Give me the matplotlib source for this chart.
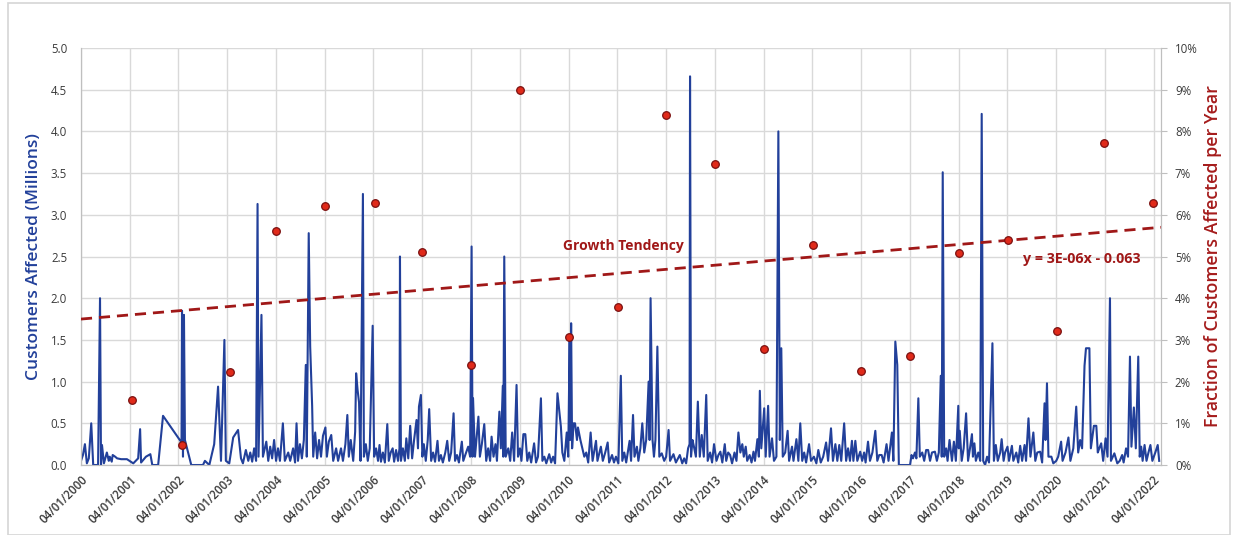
import matplotlib
matplotlib.use("Agg")
import matplotlib.pyplot as plt
import matplotlib.dates as mdates
from matplotlib.ticker import PercentFormatter, MultipleLocator
from matplotlib.patches import Rectangle
from datetime import datetime, timedelta

# --- data ---
# outage events: (decimal year, customers affected in millions)
outages_2000_2004 = [
    (2000.25, 0.05), (2000.29, 0.12), (2000.33, 0.25), (2000.37, 0.02), (2000.41, 0.08),
    (2000.46, 0.50), (2000.50, 0.00), (2000.60, 0.00), (2000.64, 2.00), (2000.66, 0.00),
    (2000.68, 0.24), (2000.72, 0.02), (2000.78, 0.15), (2000.82, 0.05), (2000.84, 0.10),
    (2000.88, 0.04), (2000.90, 0.12), (2000.95, 0.10), (2000.99, 0.08), (2001.07, 0.07),
    (2001.19, 0.07), (2001.32, 0.02), (2001.42, 0.08), (2001.46, 0.43), (2001.48, 0.03),
    (2001.58, 0.10), (2001.67, 0.13), (2001.71, 0.00), (2001.83, 0.00), (2001.93, 0.59),
    (2002.31, 0.27), (2002.32, 1.85), (2002.34, 0.10), (2002.36, 1.80), (2002.38, 0.30),
    (2002.51, 0.00), (2002.75, 0.00), (2002.79, 0.05), (2002.88, 0.00), (2002.98, 0.25),
    (2003.06, 0.94), (2003.12, 0.05), (2003.19, 1.50), (2003.22, 0.05), (2003.29, 0.02),
    (2003.37, 0.33), (2003.47, 0.42), (2003.53, 0.08), (2003.57, 0.02), (2003.63, 0.18),
    (2003.68, 0.05), (2003.72, 0.15), (2003.76, 0.04), (2003.80, 0.20), (2003.84, 0.05),
    (2003.87, 3.13), (2003.89, 0.10), (2003.95, 1.80), (2003.98, 0.10), (2004.05, 0.28),
    (2004.09, 0.05), (2004.13, 0.22), (2004.17, 0.08), (2004.21, 0.30), (2004.25, 0.05),
    (2004.29, 0.20), (2004.33, 0.05), (2004.39, 0.50), (2004.43, 0.05), (2004.50, 0.15),
    (2004.54, 0.05), (2004.60, 0.20), (2004.64, 0.03), (2004.67, 0.50), (2004.70, 0.05),
    (2004.74, 0.25), (2004.78, 0.08), (2004.82, 0.30), (2004.86, 1.20), (2004.88, 0.10),
    (2004.92, 2.78), (2004.95, 1.42), (2004.99, 0.71), (2005.01, 0.10),
]
outages_2005_2009 = [
    (2005.05, 0.39), (2005.09, 0.08), (2005.13, 0.30), (2005.17, 0.10), (2005.21, 0.35),
    (2005.26, 0.45), (2005.29, 0.10), (2005.33, 0.28), (2005.38, 0.36), (2005.42, 0.05),
    (2005.48, 0.20), (2005.52, 0.05), (2005.58, 0.20), (2005.62, 0.05), (2005.67, 0.25),
    (2005.71, 0.60), (2005.74, 0.10), (2005.78, 0.30), (2005.83, 0.05), (2005.87, 0.40),
    (2005.89, 1.10), (2005.92, 0.90), (2005.95, 0.75), (2005.98, 0.05), (2006.03, 3.25),
    (2006.05, 0.10), (2006.09, 0.25), (2006.13, 0.05), (2006.17, 0.20), (2006.23, 1.67),
    (2006.26, 0.10), (2006.30, 0.20), (2006.34, 0.05), (2006.37, 0.24), (2006.40, 0.04),
    (2006.44, 0.15), (2006.48, 0.03), (2006.53, 0.49), (2006.56, 0.05), (2006.60, 0.15),
    (2006.64, 0.20), (2006.67, 0.04), (2006.71, 0.18), (2006.75, 0.05), (2006.78, 0.20),
    (2006.79, 2.50), (2006.81, 0.05), (2006.85, 0.20), (2006.89, 0.05), (2006.92, 0.32),
    (2006.96, 0.08), (2007.00, 0.47), (2007.04, 0.08), (2007.08, 0.30), (2007.13, 0.54),
    (2007.16, 0.20), (2007.18, 0.70), (2007.22, 0.84), (2007.25, 0.10), (2007.28, 0.25),
    (2007.32, 0.05), (2007.36, 0.30), (2007.39, 0.67), (2007.43, 0.05), (2007.47, 0.15),
    (2007.51, 0.04), (2007.56, 0.29), (2007.59, 0.05), (2007.63, 0.12), (2007.67, 0.03),
    (2007.72, 0.15), (2007.76, 0.29), (2007.80, 0.05), (2007.84, 0.15), (2007.89, 0.62),
    (2007.92, 0.05), (2007.96, 0.12), (2008.00, 0.03), (2008.06, 0.28), (2008.09, 0.05),
    (2008.13, 0.12), (2008.19, 0.22), (2008.23, 0.10), (2008.26, 2.62), (2008.28, 0.10),
    (2008.29, 0.80), (2008.33, 0.10), (2008.36, 0.30), (2008.40, 0.58), (2008.43, 0.10),
    (2008.47, 0.25), (2008.52, 0.49), (2008.56, 0.05), (2008.60, 0.20), (2008.64, 0.05),
    (2008.67, 0.34), (2008.71, 0.10), (2008.75, 0.25), (2008.78, 0.05), (2008.83, 0.64),
    (2008.86, 0.20), (2008.90, 0.95), (2008.91, 0.10), (2008.93, 2.50), (2008.96, 0.10),
    (2009.01, 0.20), (2009.05, 0.05), (2009.09, 0.39), (2009.13, 0.05), (2009.18, 0.96),
    (2009.21, 0.10), (2009.25, 0.20), (2009.28, 0.05), (2009.32, 0.37), (2009.36, 0.37),
    (2009.40, 0.05), (2009.44, 0.15), (2009.48, 0.03), (2009.54, 0.26), (2009.58, 0.03),
    (2009.62, 0.10), (2009.68, 0.80), (2009.71, 0.05), (2009.75, 0.10), (2009.79, 0.02),
    (2009.85, 0.13), (2009.89, 0.03), (2009.93, 0.10), (2009.97, 0.02),
]
outages_2010_2015 = [
    (2010.02, 0.86), (2010.09, 0.46), (2010.12, 0.15), (2010.16, 0.05), (2010.21, 0.39),
    (2010.24, 0.10), (2010.27, 1.50), (2010.28, 0.30), (2010.30, 1.70), (2010.32, 0.20),
    (2010.35, 0.50), (2010.38, 0.50), (2010.42, 0.30), (2010.44, 0.45), (2010.49, 0.30),
    (2010.53, 0.20), (2010.57, 0.10), (2010.61, 0.15), (2010.65, 0.03), (2010.70, 0.39),
    (2010.74, 0.05), (2010.81, 0.29), (2010.84, 0.05), (2010.91, 0.22), (2010.95, 0.05),
    (2011.00, 0.15), (2011.05, 0.27), (2011.08, 0.03), (2011.14, 0.12), (2011.18, 0.03),
    (2011.22, 0.10), (2011.27, 0.02), (2011.32, 1.07), (2011.35, 0.05), (2011.39, 0.15),
    (2011.43, 0.03), (2011.50, 0.29), (2011.53, 0.05), (2011.57, 0.60), (2011.60, 0.10),
    (2011.65, 0.22), (2011.68, 0.05), (2011.72, 0.20), (2011.76, 0.50), (2011.80, 0.15),
    (2011.84, 0.30), (2011.89, 1.00), (2011.91, 0.30), (2011.93, 2.00), (2011.97, 0.30),
    (2012.00, 0.10), (2012.03, 0.30), (2012.07, 1.42), (2012.11, 0.10), (2012.16, 0.14),
    (2012.21, 0.05), (2012.25, 0.10), (2012.30, 0.42), (2012.33, 0.05), (2012.40, 0.13),
    (2012.45, 0.03), (2012.53, 0.12), (2012.58, 0.02), (2012.62, 0.08), (2012.66, 0.02),
    (2012.70, 0.20), (2012.73, 0.25), (2012.74, 4.66), (2012.76, 0.10), (2012.79, 0.30),
    (2012.82, 0.22), (2012.86, 0.10), (2012.90, 0.76), (2012.94, 0.10), (2012.98, 0.36),
    (2013.02, 0.10), (2013.07, 0.84), (2013.10, 0.05), (2013.15, 0.15), (2013.19, 0.03),
    (2013.23, 0.25), (2013.28, 0.05), (2013.32, 0.12), (2013.36, 0.16), (2013.40, 0.03),
    (2013.45, 0.25), (2013.48, 0.05), (2013.52, 0.15), (2013.56, 0.12), (2013.60, 0.02),
    (2013.65, 0.15), (2013.69, 0.05), (2013.73, 0.39), (2013.77, 0.15), (2013.81, 0.25),
    (2013.84, 0.10), (2013.88, 0.22), (2013.91, 0.05), (2013.96, 0.12), (2014.00, 0.03),
    (2014.04, 0.16), (2014.07, 0.05), (2014.12, 0.31), (2014.15, 0.10), (2014.17, 0.89),
    (2014.20, 0.20), (2014.26, 0.68), (2014.29, 0.10), (2014.34, 0.71), (2014.37, 0.10),
    (2014.42, 0.32), (2014.46, 0.05), (2014.51, 0.10), (2014.55, 4.00), (2014.58, 0.30),
    (2014.61, 1.40), (2014.64, 0.10), (2014.69, 0.15), (2014.74, 0.41), (2014.77, 0.05),
    (2014.83, 0.22), (2014.86, 0.05), (2014.92, 0.31), (2014.96, 0.05), (2015.00, 0.50),
    (2015.04, 0.05), (2015.08, 0.15), (2015.12, 0.03), (2015.18, 0.25), (2015.22, 0.05),
    (2015.28, 0.10), (2015.33, 0.02), (2015.37, 0.18), (2015.42, 0.03), (2015.47, 0.10),
    (2015.53, 0.27), (2015.57, 0.05), (2015.63, 0.44), (2015.67, 0.05), (2015.72, 0.25),
    (2015.76, 0.05), (2015.80, 0.24), (2015.84, 0.05), (2015.90, 0.50), (2015.94, 0.05),
    (2015.98, 0.20),
]
outages_2016_2022 = [
    (2016.02, 0.05), (2016.06, 0.29), (2016.09, 0.05), (2016.13, 0.29), (2016.17, 0.05),
    (2016.23, 0.16), (2016.27, 0.05), (2016.31, 0.15), (2016.34, 0.03), (2016.39, 0.28),
    (2016.43, 0.05), (2016.48, 0.15), (2016.54, 0.41), (2016.58, 0.05), (2016.62, 0.12),
    (2016.67, 0.12), (2016.71, 0.03), (2016.77, 0.25), (2016.81, 0.05), (2016.88, 0.39),
    (2016.91, 0.05), (2016.95, 1.48), (2016.99, 1.20), (2017.02, 0.00), (2017.25, 0.00),
    (2017.28, 0.12), (2017.31, 0.08), (2017.35, 0.15), (2017.38, 0.08), (2017.42, 0.80),
    (2017.45, 0.10), (2017.50, 0.15), (2017.54, 0.05), (2017.58, 0.18), (2017.62, 0.18),
    (2017.66, 0.05), (2017.70, 0.15), (2017.76, 0.16), (2017.80, 0.05), (2017.84, 0.15),
    (2017.88, 1.07), (2017.90, 0.10), (2017.92, 3.51), (2017.95, 0.10), (2017.99, 0.20),
    (2018.02, 0.05), (2018.06, 0.30), (2018.11, 0.05), (2018.15, 0.28), (2018.19, 0.05),
    (2018.24, 0.71), (2018.25, 0.20), (2018.27, 0.41), (2018.31, 0.05), (2018.35, 0.20),
    (2018.40, 0.62), (2018.44, 0.05), (2018.48, 0.20), (2018.52, 0.37), (2018.54, 0.10),
    (2018.57, 0.26), (2018.60, 0.05), (2018.65, 0.15), (2018.69, 0.05), (2018.72, 4.21),
    (2018.75, 0.05), (2018.79, 0.00), (2018.83, 0.10), (2018.87, 0.03), (2018.94, 1.46),
    (2018.97, 0.05), (2019.01, 0.24), (2019.05, 0.05), (2019.10, 0.15), (2019.13, 0.31),
    (2019.17, 0.05), (2019.20, 0.15), (2019.25, 0.22), (2019.28, 0.05), (2019.34, 0.23),
    (2019.37, 0.05), (2019.43, 0.15), (2019.47, 0.03), (2019.51, 0.23), (2019.55, 0.05),
    (2019.60, 0.24), (2019.63, 0.05), (2019.68, 0.56), (2019.72, 0.10), (2019.78, 0.39),
    (2019.82, 0.05), (2019.86, 0.15), (2019.92, 0.16), (2019.96, 0.03), (2020.01, 0.74),
    (2020.03, 0.30), (2020.06, 0.98), (2020.09, 0.10), (2020.15, 0.10), (2020.19, 0.02),
    (2020.25, 0.05), (2020.29, 0.10), (2020.35, 0.28), (2020.38, 0.05), (2020.44, 0.15),
    (2020.50, 0.33), (2020.54, 0.05), (2020.60, 0.20), (2020.66, 0.70), (2020.70, 0.15),
    (2020.74, 0.30), (2020.78, 0.20), (2020.83, 1.19), (2020.86, 1.40), (2020.93, 1.40),
    (2020.96, 0.20), (2021.02, 0.47), (2021.07, 0.47), (2021.10, 0.15), (2021.13, 0.20),
    (2021.17, 0.26), (2021.21, 0.05), (2021.26, 0.32), (2021.30, 0.10), (2021.35, 2.00),
    (2021.37, 0.05), (2021.44, 0.14), (2021.50, 0.02), (2021.55, 0.05), (2021.60, 0.12),
    (2021.63, 0.03), (2021.68, 0.20), (2021.72, 0.10), (2021.76, 1.30), (2021.79, 0.22),
    (2021.84, 0.69), (2021.88, 0.20), (2021.93, 1.30), (2021.96, 0.10), (2021.99, 0.22),
    (2022.02, 0.05), (2022.06, 0.24), (2022.10, 0.05), (2022.14, 0.15), (2022.18, 0.24),
    (2022.22, 0.05), (2022.28, 0.15), (2022.33, 0.24), (2022.36, 0.05),
]

# yearly fraction of customers affected (right axis)
frac_year = [2001.30, 2002.32, 2003.31, 2004.25, 2005.25, 2006.28, 2007.25, 2008.25,
             2009.25, 2010.26, 2011.27, 2012.25, 2013.25, 2014.26, 2015.27, 2016.25,
             2017.25, 2018.26, 2019.27, 2020.27, 2021.23, 2022.24]
frac_value = [0.0155, 0.0049, 0.0224, 0.0560, 0.0622, 0.0629, 0.0510, 0.0240,
              0.0900, 0.0306, 0.0378, 0.0840, 0.0722, 0.0278, 0.0528, 0.0225,
              0.0261, 0.0508, 0.0540, 0.0322, 0.0771, 0.0629]

# trend line on the right axis, x = Excel date serial
trend_slope = 2.72e-6
trend_intercept = -0.0646
trend_label = "y = 3E-06x - 0.063"

tick_years = list(range(2000, 2023))


def to_date(yr):
    y = int(yr)
    return datetime(y, 1, 1) + timedelta(days=(yr - y) * 365.25)


def excel_serial(d):
    return (d - datetime(1899, 12, 30)).days


events = outages_2000_2004 + outages_2005_2009 + outages_2010_2015 + outages_2016_2022
ev_dates = [to_date(e[0]) for e in events]
ev_vals = [e[1] for e in events]

BLUE = "#22409A"
DARKRED = "#A01818"
GRID = "#D9D9D9"
TXT = "#3A3A3A"
plt.rcParams["font.family"] = ["Open Sans", "DejaVu Sans"]

fig = plt.figure(figsize=(12.38, 5.35), dpi=100)
fig.patches.append(Rectangle((8 / 1238, 0), 1222 / 1238, 532 / 535, transform=fig.transFigure,
                             fill=False, edgecolor="#D5D5D5", linewidth=1.2))
ax = fig.add_axes([0.0654, 0.1308, 0.8724, 0.7795])
ax2 = ax.twinx()

ax.plot(ev_dates, ev_vals, color=BLUE, linewidth=1.5, zorder=3)

x0 = datetime(2000, 4, 1)
x1 = datetime(2022, 5, 26)
ax.set_xlim(x0, x1)
ax.set_ylim(0, 5.0)
ax.yaxis.set_major_locator(MultipleLocator(0.5))
ax.yaxis.set_major_formatter(plt.FuncFormatter(lambda v, p: "%.1f" % v))

ticks = [datetime(y, 4, 1) for y in tick_years]
ax.set_xticks(ticks)
ax.xaxis.set_major_formatter(mdates.DateFormatter("%m/%d/%Y"))
for lab in ax.get_xticklabels():
    lab.set_rotation(45)
    lab.set_ha("right")
    lab.set_rotation_mode("anchor")
    lab.set_fontweight("semibold")
ax.tick_params(axis="x", labelsize=8.3, colors=TXT, length=0, pad=6)
ax.tick_params(axis="y", labelsize=8.3, colors=TXT, length=0, pad=10)
ax.grid(True, color=GRID, linewidth=1.0)
ax.set_axisbelow(True)

ax2.set_ylim(0, 0.10)
ax2.yaxis.set_major_locator(MultipleLocator(0.01))
ax2.yaxis.set_major_formatter(PercentFormatter(1.0, decimals=0))
ax2.tick_params(axis="y", labelsize=8.3, colors=TXT, length=4, color="#BFBFBF", pad=6)

# trend
tx = [x0, x1]
ty = [trend_slope * excel_serial(d) + trend_intercept for d in tx]
ax2.plot(tx, ty, color=DARKRED, linewidth=2.0, linestyle=(0, (4, 2.5)), zorder=4)

ax2.scatter([to_date(y) for y in frac_year], frac_value, s=30, color="#E02A1A",
            edgecolors="#7A1010", linewidths=0.9, zorder=5)

for a in (ax, ax2):
    a.spines["top"].set_visible(False)
    for s in ("left", "right", "bottom"):
        a.spines[s].set_color("#BFBFBF")

ax.set_ylabel("Customers Affected (Millions)", color=BLUE, fontsize=12.5, fontweight="semibold")
ax.yaxis.set_label_coords(-0.036, 0.5)
ax2.set_ylabel("Fraction of Customers Affected per Year", color="#A51C1C", fontsize=12.8,
               fontweight="semibold")
ax2.yaxis.set_label_coords(1.040, 0.5)

ax.text(to_date(2011.37), 2.63, "Growth Tendency", color=DARKRED, fontsize=10,
        fontweight="bold", ha="center", va="center", zorder=6)
ax.text(to_date(2020.78), 2.47, trend_label, color=DARKRED, fontsize=10.3,
        fontweight="bold", ha="center", va="center", zorder=6)

fig.savefig("out.png", dpi=100)
